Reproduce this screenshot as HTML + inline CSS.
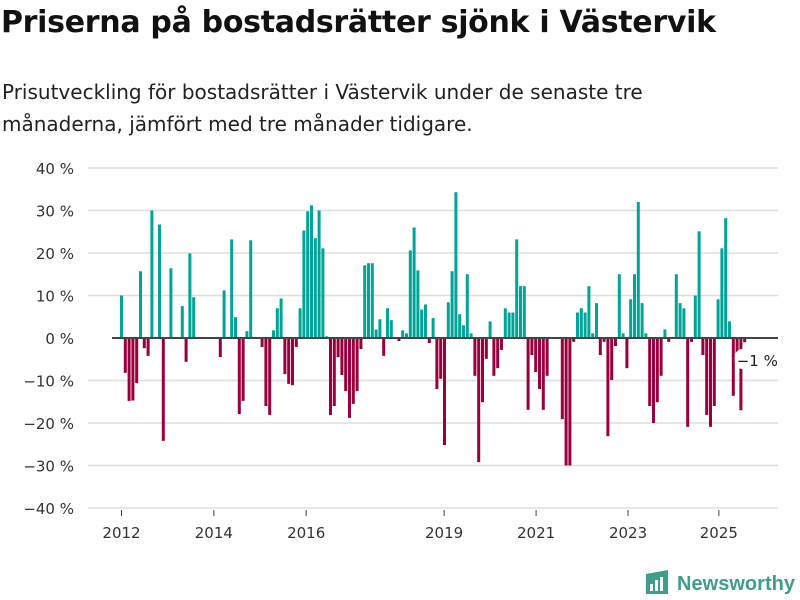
<!DOCTYPE html>
<html><head><meta charset="utf-8">
<style>
body{margin:0;background:#fff;width:800px;height:600px;overflow:hidden;font-family:"DejaVu Sans",sans-serif;}
#title{position:absolute;left:1px;top:5px;font-size:30px;font-weight:bold;color:#111;letter-spacing:-0.3px;white-space:nowrap;}
#sub{position:absolute;left:2px;top:76px;font-size:20px;line-height:32px;color:#222;width:680px;}
svg{position:absolute;left:0;top:0;}
</style></head><body>
<div id="title">Priserna på bostadsrätter sjönk i Västervik</div>
<div id="sub">Prisutveckling för bostadsrätter i Västervik under de senaste tre månaderna, jämfört med tre månader tidigare.</div>
<svg id="chart" width="800" height="600"></svg>
<script>
const months = [];
const valuesByMonth = {0:10,1:-8.2,2:-14.8,3:-14.7,4:-10.6,5:15.7,6:-2.4,7:-4.2,8:30,10:26.7,11:-24.2,13:16.4,16:7.5,17:-5.6,18:19.9,19:9.6,
26:-4.5,27:11.2,29:23.2,30:4.9,31:-17.9,32:-14.8,33:1.6,34:23,37:-2.1,38:-16,39:-18.1,40:1.8,41:7,42:9.3,43:-8.5,44:-10.8,45:-11.1,46:-2.1,47:7,
48:25.3,49:29.8,50:31.2,51:23.5,52:30,53:21.1,54:0.4,55:-18.1,56:-16,57:-4.5,58:-8.7,59:-12.5,60:-18.8,61:-15.5,62:-12.5,63:-2.6,64:17.1,65:17.6,66:17.6,
67:2.0,68:4.4,69:-4.2,70:7,71:4.2,73:-0.7,74:1.8,75:1.1,76:20.6,77:26,78:15.9,79:6.7,80:7.9,81:-1.2,82:4.7,83:-12,84:-9.6,85:-25.2,86:8.4,87:15.7,88:34.3,89:5.6,90:3,91:15,92:1.1,93:-8.9,94:-29.2,95:-15.1,96:-4.9,97:3.9,98:-8.9,99:-7.1,100:-2.8,
101:7,102:6,103:6,104:23.2,105:12.2,106:12.2,107:-16.9,108:-4,109:-8,110:-12,111:-16.9,112:-8.9,116:-19.1,117:-30,118:-30,119:-0.9,120:6,121:7,122:6,123:12.2,124:1.1,125:8.2,126:-4,127:-0.9,128:-23.1,129:-9.9,130:-1.9,131:15,132:1.1,133:-7.1,134:9.1,135:15,
136:32,137:8.2,138:1.1,139:-16,140:-20,141:-15.1,142:-8.9,143:2,144:-0.9,146:15,147:8.2,148:7,149:-20.9,150:-0.9,151:10,152:25.1,153:-4,154:-18.1,155:-20.9,156:-16,157:9.1,158:21.1,159:28.2,160:3.9,161:-13.6,162:-4,163:-17,164:-1};
const values = [];
for (let i = 0; i <= 164; i++) { months.push(i); values.push(valuesByMonth[i] !== undefined ? valuesByMonth[i] : 0); }
const yTicks = [40,30,20,10,0,-10,-20,-30,-40];
const xTickLabels = ["2012","2014","2016","2019","2021","2023","2025"];
const xTickMonths = [0,24.3,48.6,84.9,109.1,133.3,157.2];
const lastLabel = "−1 %";

const NS = "http://www.w3.org/2000/svg";
const svg = document.getElementById('chart');
const x = m => 121.5 + m * 3.8;
const y = v => 338 - v * 4.25;
function mk(tag, attrs, parent) { const e = document.createElementNS(NS, tag); for (const k in attrs) e.setAttribute(k, attrs[k]); (parent || svg).appendChild(e); return e; }
const fmt = v => (v < 0 ? "−" + Math.abs(v) : v) + " %";
const FF = 'DejaVu Sans, sans-serif';

yTicks.forEach(t => {
  if (t !== 0) {
    const g = mk('line', {x1: 88, x2: 778, y1: y(t), y2: y(t), stroke: '#dedede', 'stroke-width': 1.5});
    
    
  }
  const tx = mk('text', {x: 74, y: y(t) + 6, 'text-anchor': 'end', 'font-size': 15, fill: '#333', 'font-family': FF});
  tx.textContent = fmt(t);
  
  
});

months.forEach((m, i) => {
  const v = values[i];
  if (v === 0) return;
  const r = mk('rect', {x: x(m) - 1.5, width: 3, y: Math.min(y(v), y(0)), height: Math.abs(y(v) - y(0)), fill: v > 0 ? '#00a598' : '#99003d'});
  
  
});

const zl = mk('line', {x1: 112, x2: 778, y1: y(0), y2: y(0), stroke: '#444', 'stroke-width': 2});



xTickMonths.forEach((m, i) => {
  const tk = mk('line', {x1: x(m), x2: x(m), y1: 510, y2: 516, stroke: '#444', 'stroke-width': 1});
  
  
  const tx = mk('text', {x: x(m), y: 538, 'text-anchor': 'middle', 'font-size': 15, fill: '#333', 'font-family': FF});
  tx.textContent = xTickLabels[i];
  
  
});

const lastM = months[months.length - 1];
const lbg = mk('rect', {x: x(lastM) - 10, y: 349, width: 24, height: 20, rx: 8, fill: '#fff'});


const lt = mk('text', {x: x(lastM) - 8, y: 366, 'font-size': 15, fill: '#222', 'font-family': FF});
lt.textContent = lastLabel;



const logo = mk('g', {});


mk('path', {d: 'M646 574 L668 570 L668 594 L646 594 Z', fill: '#3e9e8c'}, logo);
mk('rect', {x: 650, y: 584, width: 3, height: 7, fill: '#fff'}, logo);
mk('rect', {x: 655, y: 580, width: 3, height: 11, fill: '#fff'}, logo);
mk('rect', {x: 660, y: 577, width: 3, height: 14, fill: '#fff'}, logo);
const lgt = mk('text', {x: 677, y: 590, 'font-size': 20, 'font-weight': 'bold', fill: '#3e9e8c', 'font-family': 'Liberation Sans, sans-serif', textLength: 118});
lgt.textContent = 'Newsworthy';
</script>
</body></html>
